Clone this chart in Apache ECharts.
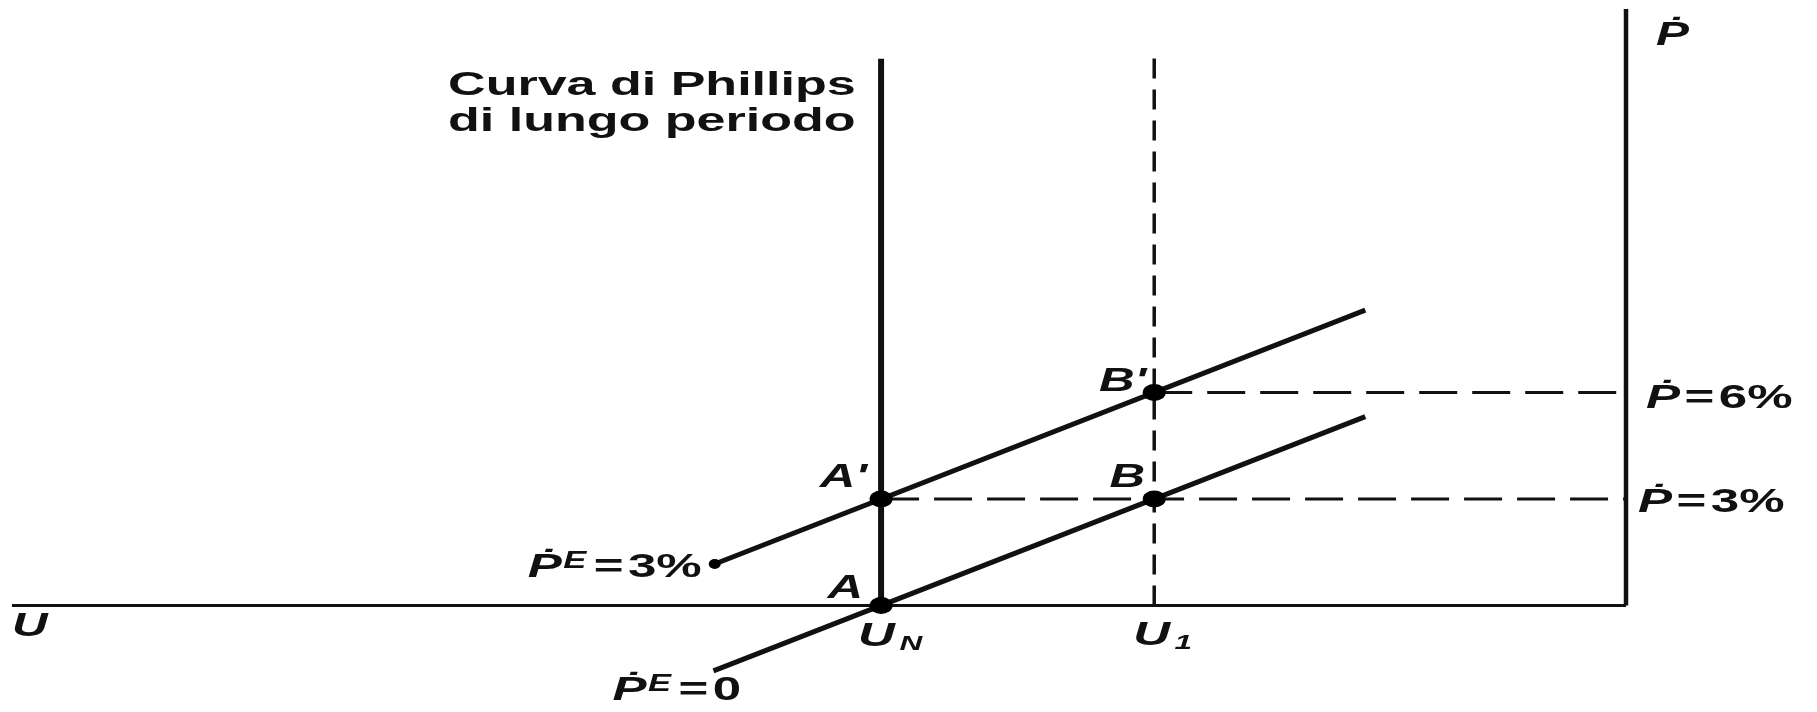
<!DOCTYPE html>
<html>
<head>
<meta charset="utf-8">
<title>Curva di Phillips di lungo periodo</title>
<script src="https://cdn.jsdelivr.net/npm/echarts@6/dist/echarts.min.js"></script>
<style>
  html, body { margin: 0; padding: 0; background: #ffffff; }
  #chart { width: 1817px; height: 712px; }
</style>
</head>
<body>
<div id="chart"></div>
<script>
// Unemployment U grows towards the left; inflation Ṗ (%) is read on the right-hand axis.
const uAxisEnd = 13;        // left end of the U axis
const pAxisTop = 16.8;      // top of the Ṗ axis
const naturalU = 6;         // U_N
const lowU = 3.8;           // U_1
const lrpcTop = 15.4;       // long-run Phillips curve, vertical at U_N
const u1GuideTop = 15.6;    // dashed guide at U_1

// Short-run Phillips curves: end points (U, Ṗ)
const srpcZeroU = [7.35, 2.1];
const srpcZeroP = [-1.84, 5.32];   // Ṗᴱ = 0
const srpcThreeU = [7.34, 2.1];
const srpcThreeP = [1.17, 8.32];   // Ṗᴱ = 3%

// Equilibrium points
const pointNames = ['A', "A'", 'B', "B'"];
const pointU = [6, 6, 3.8, 3.8];
const pointP = [0, 3, 3, 6];

// Inflation levels marked on the Ṗ axis, and where their guides start
const inflationLevels = [3, 6];
const inflationStartU = [6, 3.8];

// Text labels and the (U, Ṗ) point each one hangs from
const labelTexts = [
  'Curva di Phillips\ndi lungo periodo',
  '{it|U}',
  '{it|Ṗ}',
  '{it|Ṗ}{eq|=}{num|6%}',
  '{it|Ṗ}{eq|=}{num|3%}',
  '{it|Ṗ}{sup|E}{eq|=}{num|3%}',
  '{it|Ṗ}{sup|E}{eq|=}{num|0}',
  '{it|A}',
  "{it|A'}",
  '{it|B}',
  "{it|B'}",
  '{it|U}{sub|N}',
  '{it|U}{sub|1}'
];
const labelAnchors = [
  [naturalU, lrpcTop],
  [uAxisEnd, 0],
  [0, pAxisTop],
  [0, inflationLevels[1]],
  [0, inflationLevels[0]],
  [srpcThreeU[0], srpcThreeP[0]],
  [srpcZeroU[0], srpcZeroP[0]],
  [pointU[0], pointP[0]],
  [pointU[1], pointP[1]],
  [pointU[2], pointP[2]],
  [pointU[3], pointP[3]],
  [naturalU, 0],
  [lowU, 0]
];

// Placement of each label relative to its anchor (pixels), and its horizontal stretch
const labelLayout = [
  { align: 'left',  dx: -433, dy: 45,  sx: 1.53, title: true },
  { align: 'left',  dx: 0,    dy: 21,  sx: 1.45 },
  { align: 'left',  dx: 30,   dy: 27,  sx: 1.45 },
  { align: 'left',  dx: 20,   dy: 6,   sx: 1.5 },
  { align: 'left',  dx: 12,   dy: 4,   sx: 1.5 },
  { align: 'right', dx: -13,  dy: 4,   sx: 1.5 },
  { align: 'left',  dx: -101, dy: 20,  sx: 1.5 },
  { align: 'right', dx: -18,  dy: -17, sx: 1.45 },
  { align: 'right', dx: -14,  dy: -21, sx: 1.45 },
  { align: 'right', dx: -9,   dy: -21, sx: 1.45 },
  { align: 'right', dx: -8,   dy: -11, sx: 1.45 },
  { align: 'left',  dx: -23,  dy: 31,  sx: 1.5 },
  { align: 'left',  dx: -21,  dy: 30,  sx: 1.5 }
];

const INK = '#111111';
const FONT = '"Liberation Sans", "DejaVu Sans", Arial, sans-serif';

const RICH = {
  it:  { fontSize: 34, fontStyle: 'italic', fontWeight: 'bold', fontFamily: FONT, fill: INK, lineHeight: 36 },
  num: { fontSize: 34, fontWeight: 'bold', fontFamily: FONT, fill: INK, lineHeight: 36 },
  eq:  { fontSize: 34, fontWeight: 'bold', fontFamily: FONT, fill: INK, lineHeight: 36, padding: [0, 3, 0, 3] },
  sup: { fontSize: 23, fontStyle: 'italic', fontWeight: 'bold', fontFamily: FONT, fill: INK, verticalAlign: 'top', lineHeight: 22, padding: [0, 2, 0, 1] },
  sub: { fontSize: 21, fontStyle: 'italic', fontWeight: 'bold', fontFamily: FONT, fill: INK, verticalAlign: 'bottom', lineHeight: 18, padding: [0, 0, 0, 3] }
};

function segment(name, pts, width, type) {
  return {
    name: name,
    type: 'line',
    data: pts,
    symbol: 'none',
    silent: true,
    z: 2,
    lineStyle: { color: INK, width: width, type: type || 'solid', cap: 'butt' }
  };
}

const chart = echarts.init(document.getElementById('chart'), null, { renderer: 'canvas' });

const option = {
  backgroundColor: '#ffffff',
  animation: false,
  grid: { left: 12, top: 2, width: 1614, height: 710 },
  xAxis: { type: 'value', min: 0, max: uAxisEnd, inverse: true, show: false },
  yAxis: { type: 'value', min: -3, max: 17, show: false },
  series: [
    segment('U', [[uAxisEnd, 0], [0, 0]], 3),
    segment('Ṗ', [[0, 0], [0, pAxisTop]], 4.5),
    segment('Curva di Phillips di lungo periodo', [[naturalU, 0], [naturalU, lrpcTop]], 6),
    segment('U1', [[lowU, 0], [lowU, u1GuideTop]], 3.5, [20, 11]),
    segment('Ṗ=3%', [[inflationStartU[0], inflationLevels[0]], [0, inflationLevels[0]]], 3, [38, 15]),
    segment('Ṗ=6%', [[inflationStartU[1], inflationLevels[1]], [0, inflationLevels[1]]], 3, [38, 15]),
    segment('Ṗᴱ=0', srpcZeroU.map((u, i) => [u, srpcZeroP[i]]), 5),
    segment('Ṗᴱ=3%', srpcThreeU.map((u, i) => [u, srpcThreeP[i]]), 5),
    {
      name: 'estremo',
      type: 'scatter',
      data: [[srpcThreeU[0], srpcThreeP[0]]],
      symbol: 'circle',
      symbolSize: [12, 10],
      itemStyle: { color: '#000000', opacity: 1 },
      silent: true,
      z: 3
    },
    {
      name: 'punti',
      type: 'scatter',
      data: pointU.map((u, i) => ({ name: pointNames[i], value: [u, pointP[i]] })),
      symbol: 'circle',
      symbolSize: [23, 17],
      itemStyle: { color: '#000000', opacity: 1 },
      silent: true,
      z: 4
    },
    {
      name: 'etichette',
      type: 'custom',
      coordinateSystem: 'cartesian2d',
      clip: false,
      silent: true,
      z: 5,
      data: labelAnchors,
      renderItem: function (params, api) {
        const i = params.dataIndex;
        const lay = labelLayout[i];
        const pt = api.coord([api.value(0), api.value(1)]);
        const style = lay.title
          ? {
              text: labelTexts[i],
              fontSize: 34,
              fontFamily: FONT,
              fontWeight: 'bold',
              lineHeight: 36,
              fill: INK,
              align: lay.align,
              verticalAlign: 'middle'
            }
          : {
              text: labelTexts[i],
              rich: RICH,
              fontSize: 34,
              fontFamily: FONT,
              fill: INK,
              align: lay.align,
              verticalAlign: 'middle'
            };
        return {
          type: 'text',
          x: pt[0] + lay.dx,
          y: pt[1] + lay.dy,
          scaleX: lay.sx,
          style: style
        };
      }
    }
  ]
};

chart.setOption(option);
</script>
</body>
</html>
